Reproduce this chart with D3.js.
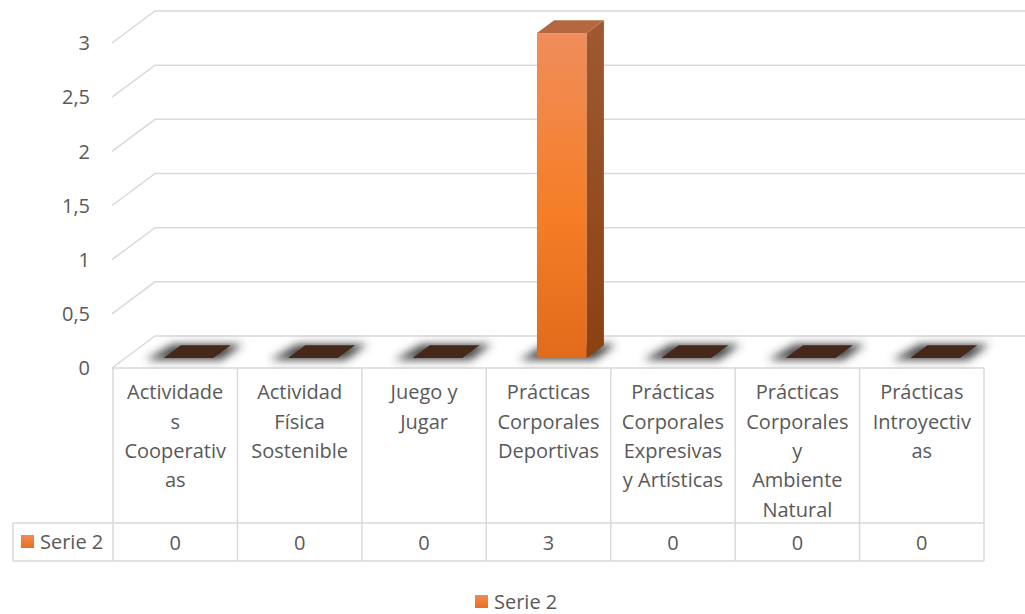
<!DOCTYPE html>
<html>
<head>
<meta charset="utf-8">
<script src="https://cdn.jsdelivr.net/npm/d3@7"></script>
<style>
  html, body { margin: 0; padding: 0; background: #ffffff; }
  svg { display: block; }
  text { font-family: "Open Sans", "Noto Sans", sans-serif; fill: #595959; }
</style>
</head>
<body>
<svg id="chart" width="1025" height="614"></svg>
<script>
// ---- data ----
const categories = [
  "Actividades Cooperativas",
  "Actividad Física Sostenible",
  "Juego y Jugar",
  "Prácticas Corporales Deportivas",
  "Prácticas Corporales Expresivas y Artísticas",
  "Prácticas Corporales y Ambiente Natural",
  "Prácticas Introyectivas"
];
// category text as it wraps inside the data-table header cells
const categoryLines = [
  ["Actividade", "s", "Cooperativ", "as"],
  ["Actividad", "Física", "Sostenible"],
  ["Juego y", "Jugar"],
  ["Prácticas", "Corporales", "Deportivas"],
  ["Prácticas", "Corporales", "Expresivas", "y Artísticas"],
  ["Prácticas", "Corporales", "y", "Ambiente", "Natural"],
  ["Prácticas", "Introyectiv", "as"]
];
const seriesName = "Serie 2";
const values = [0, 0, 0, 3, 0, 0, 0];
const yTicks = [0, 0.5, 1, 1.5, 2, 2.5, 3];
const yTickLabels = ["0", "0,5", "1", "1,5", "2", "2,5", "3"];

// ---- layout ----
const svg = d3.select("#chart");
const plotLeft = 113, plotRight = 984;
const depthDX = 43, depthDY = -32;       // floor / wall depth offset
const barFront = 0.31, barBack = 0.71;    // bar position within the depth
const grid = "#d9d9d9";

const x = d3.scaleBand().domain(categories).range([plotLeft, plotRight]).padding(0);
const y = d3.scaleLinear().domain([0, 3]).range([368, 43]);
const barW = x.bandwidth() * 0.40;

const defs = svg.append("defs");
const gFront = defs.append("linearGradient").attr("id", "barFront")
  .attr("x1", 0).attr("y1", 0).attr("x2", 0).attr("y2", 1);
gFront.append("stop").attr("offset", "0%").attr("stop-color", "#f08d5c");
gFront.append("stop").attr("offset", "55%").attr("stop-color", "#f57e26");
gFront.append("stop").attr("offset", "100%").attr("stop-color", "#e26a1b");
const gSide = defs.append("linearGradient").attr("id", "barSide")
  .attr("x1", 0).attr("y1", 0).attr("x2", 0).attr("y2", 1);
gSide.append("stop").attr("offset", "0%").attr("stop-color", "#9f5a33");
gSide.append("stop").attr("offset", "100%").attr("stop-color", "#8b4111");
const gKey = defs.append("linearGradient").attr("id", "keyFill")
  .attr("x1", 0).attr("y1", 0).attr("x2", 0).attr("y2", 1);
gKey.append("stop").attr("offset", "0%").attr("stop-color", "#f08c55");
gKey.append("stop").attr("offset", "100%").attr("stop-color", "#e86f1e");
defs.append("filter").attr("id", "soft").attr("x", "-50%").attr("y", "-100%")
  .attr("width", "200%").attr("height", "300%")
  .append("feGaussianBlur").attr("stdDeviation", 4);

// ---- gridlines (side wall diagonal + back wall line) ----
const gGrid = svg.append("g").attr("fill", "none").attr("stroke", grid).attr("stroke-width", 1.5);
yTicks.forEach(t => {
  const yf = y(t);
  gGrid.append("path")
    .attr("d", `M${plotLeft - 1},${yf} L${plotLeft - 1 + depthDX},${yf + depthDY} L${1030},${yf + depthDY}`);
});
// floor front edge
gGrid.append("path").attr("d", `M${plotLeft - 1},${y(0)} L${plotRight},${y(0)}`);

// ---- y axis labels ----
svg.append("g").selectAll("text").data(yTicks).join("text")
  .attr("x", 90).attr("y", d => y(d)).attr("dy", "0.36em")
  .attr("text-anchor", "end").style("font-size", "20px")
  .text((d, i) => yTickLabels[i]);

// ---- bars ----
const fdx = depthDX * barFront, fdy = depthDY * barFront;
const bdx = depthDX * barBack,  bdy = depthDY * barBack;
const pts = a => a.map(p => p.join(",")).join(" ");

const gShadow = svg.append("g").attr("filter", "url(#soft)");
const gBars = svg.append("g");
categories.forEach((c, i) => {
  const v = values[i];
  const x0 = x(c) + (x.bandwidth() - barW) / 2, x1 = x0 + barW;
  const y0 = y(0), yv = y(v);
  // soft floor shadow
  gShadow.append("polygon")
    .attr("points", pts([
      [x0 + fdx - 18, y0 + fdy + 2], [x1 + fdx + 8, y0 + fdy + 2],
      [x1 + bdx + 12, y0 + bdy - 1], [x0 + bdx - 8, y0 + bdy - 1]
    ]))
    .attr("fill", "#333333").attr("opacity", 0.9);

  if (v > 0) {
    gBars.append("rect")
      .attr("x", x0 + fdx).attr("y", yv + fdy)
      .attr("width", barW).attr("height", y0 - yv)
      .attr("fill", "url(#barFront)");
    gBars.append("polygon")
      .attr("points", pts([[x1 + fdx, yv + fdy], [x1 + bdx, yv + bdy], [x1 + bdx, y0 + bdy], [x1 + fdx, y0 + fdy]]))
      .attr("fill", "url(#barSide)");
    gBars.append("polygon")
      .attr("points", pts([[x0 + fdx, yv + fdy], [x1 + fdx, yv + fdy], [x1 + bdx, yv + bdy], [x0 + bdx, yv + bdy]]))
      .attr("fill", "#b5683f");
  } else {
    gBars.append("polygon")
      .attr("points", pts([[x0 + fdx, y0 + fdy], [x1 + fdx, y0 + fdy], [x1 + bdx, y0 + bdy], [x0 + bdx, y0 + bdy]]))
      .attr("fill", "#45281a");
  }
});

// ---- data table ----
const headTop = y(0), headBottom = 523, rowBottom = 561, keyLeft = 13;
const gTable = svg.append("g").attr("fill", "none").attr("stroke", grid).attr("stroke-width", 1.5);
d3.range(categories.length + 1).forEach(i => {
  const xx = plotLeft + i * x.bandwidth();
  gTable.append("line").attr("x1", xx).attr("x2", xx).attr("y1", headTop).attr("y2", rowBottom);
});
gTable.append("line").attr("x1", keyLeft).attr("x2", plotRight).attr("y1", headBottom).attr("y2", headBottom);
gTable.append("line").attr("x1", keyLeft).attr("x2", plotRight).attr("y1", rowBottom).attr("y2", rowBottom);
gTable.append("line").attr("x1", keyLeft).attr("x2", keyLeft).attr("y1", headBottom).attr("y2", rowBottom);

const gHead = svg.append("g").attr("text-anchor", "middle").style("font-size", "20px");
categories.forEach((c, i) => {
  const t = gHead.append("text").attr("x", x(c) + x.bandwidth() / 2).attr("y", 392);
  categoryLines[i].forEach((ln, k) => {
    t.append("tspan").attr("x", x(c) + x.bandwidth() / 2)
      .attr("y", 392 + k * 29.4).attr("dy", "0.36em").text(ln);
  });
});
svg.append("g").attr("text-anchor", "middle").style("font-size", "20px")
  .selectAll("text").data(values).join("text")
  .attr("x", (d, i) => x(categories[i]) + x.bandwidth() / 2)
  .attr("y", (headBottom + rowBottom) / 2 + 0.5).attr("dy", "0.36em")
  .text(d => d);

// series key inside the table
svg.append("rect").attr("x", 21).attr("y", 535).attr("width", 13).attr("height", 13).attr("fill", "url(#keyFill)");
svg.append("text").attr("x", 40).attr("y", 541.5).attr("dy", "0.36em").style("font-size", "20px").text(seriesName);

// ---- legend ----
svg.append("rect").attr("x", 475).attr("y", 595).attr("width", 13).attr("height", 13).attr("fill", "url(#keyFill)");
svg.append("text").attr("x", 494).attr("y", 601.5).attr("dy", "0.36em").style("font-size", "20px").text(seriesName);
</script>
</body>
</html>
